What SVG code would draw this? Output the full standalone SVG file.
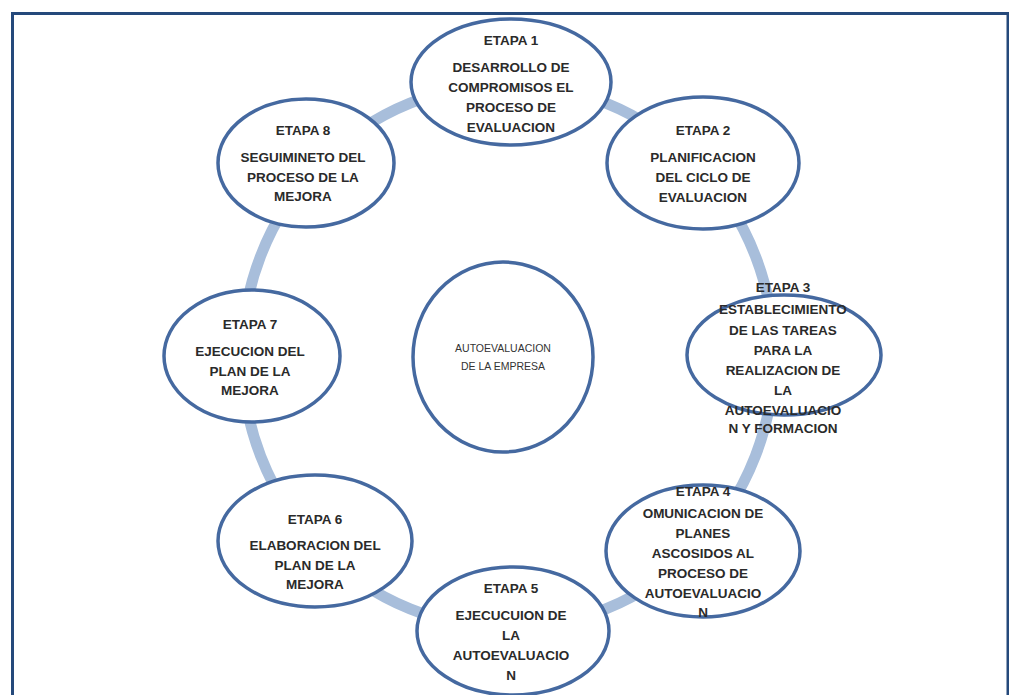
<svg xmlns="http://www.w3.org/2000/svg" width="1009" height="695" viewBox="0 0 1009 695">
<style>
.node{fill:#ffffff;stroke:#4569a0;stroke-width:3.5}
.t{font-family:"Liberation Sans",Arial,sans-serif;font-weight:bold;font-size:13.5px;fill:#2a2a2a;text-anchor:middle}
.c{font-family:"Liberation Sans",Arial,sans-serif;font-size:10.5px;fill:#333;text-anchor:middle}
.ring{fill:none;stroke:#a8bedb;stroke-width:11}
</style>
<rect x="0" y="0" width="1009" height="695" fill="#ffffff"/>
<rect x="12.5" y="13.5" width="995.5" height="700" fill="none" stroke="#25497b" stroke-width="3"/>
<g id="connectors">
<ellipse class="ring" cx="508" cy="356" rx="266" ry="272"/>
</g>
<g id="center">
<ellipse class="node" cx="503" cy="357" rx="90" ry="95"/>
<text class="c" x="503" y="352">AUTOEVALUACION</text>
<text class="c" x="503" y="370">DE LA EMPRESA</text>
</g>
<g id="etapa1">
<ellipse class="node" cx="511" cy="82" rx="100" ry="63"/>
<text class="t" x="511" y="45">ETAPA 1</text>
<text class="t" x="511" y="72">DESARROLLO DE</text>
<text class="t" x="511" y="92">COMPROMISOS EL</text>
<text class="t" x="511" y="112">PROCESO DE</text>
<text class="t" x="511" y="132">EVALUACION</text>
</g>
<g id="etapa2">
<ellipse class="node" cx="703" cy="163" rx="96" ry="66"/>
<text class="t" x="703" y="135">ETAPA 2</text>
<text class="t" x="703" y="162">PLANIFICACION</text>
<text class="t" x="703" y="182">DEL CICLO DE</text>
<text class="t" x="703" y="202">EVALUACION</text>
</g>
<g id="etapa3">
<ellipse class="node" cx="784" cy="355" rx="97" ry="60"/>
<text class="t" x="783" y="292">ETAPA 3</text>
<text class="t" x="783" y="314">ESTABLECIMIENTO</text>
<text class="t" x="783" y="335">DE LAS TAREAS</text>
<text class="t" x="783" y="355">PARA LA</text>
<text class="t" x="783" y="375">REALIZACION DE</text>
<text class="t" x="783" y="395">LA</text>
<text class="t" x="783" y="415">AUTOEVALUACIO</text>
<text class="t" x="783" y="433">N Y FORMACION</text>
</g>
<g id="etapa4">
<ellipse class="node" cx="703" cy="551" rx="97" ry="66"/>
<text class="t" x="703" y="496">ETAPA 4</text>
<text class="t" x="703" y="518">OMUNICACION DE</text>
<text class="t" x="703" y="538">PLANES</text>
<text class="t" x="703" y="558">ASCOSIDOS AL</text>
<text class="t" x="703" y="578">PROCESO DE</text>
<text class="t" x="703" y="598">AUTOEVALUACIO</text>
<text class="t" x="703" y="617">N</text>
</g>
<g id="etapa5">
<ellipse class="node" cx="513" cy="631" rx="96" ry="64"/>
<text class="t" x="511" y="593">ETAPA 5</text>
<text class="t" x="511" y="620">EJECUCUION DE</text>
<text class="t" x="511" y="640">LA</text>
<text class="t" x="511" y="660">AUTOEVALUACIO</text>
<text class="t" x="511" y="680">N</text>
</g>
<g id="etapa6">
<ellipse class="node" cx="315" cy="541" rx="97" ry="66"/>
<text class="t" x="315" y="524">ETAPA 6</text>
<text class="t" x="315" y="550">ELABORACION DEL</text>
<text class="t" x="315" y="570">PLAN DE LA</text>
<text class="t" x="315" y="589">MEJORA</text>
</g>
<g id="etapa7">
<ellipse class="node" cx="252" cy="356" rx="88" ry="66"/>
<text class="t" x="250" y="329">ETAPA 7</text>
<text class="t" x="250" y="356">EJECUCION DEL</text>
<text class="t" x="250" y="376">PLAN DE LA</text>
<text class="t" x="250" y="395">MEJORA</text>
</g>
<g id="etapa8">
<ellipse class="node" cx="306" cy="163" rx="88" ry="64"/>
<text class="t" x="303" y="135">ETAPA 8</text>
<text class="t" x="303" y="162">SEGUIMINETO DEL</text>
<text class="t" x="303" y="182">PROCESO DE LA</text>
<text class="t" x="303" y="201">MEJORA</text>
</g>
</svg>
